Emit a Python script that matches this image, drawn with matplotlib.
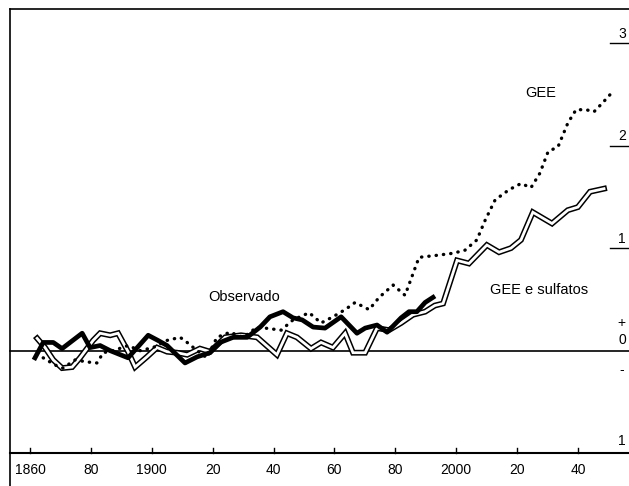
import matplotlib
matplotlib.use("Agg")
import matplotlib.pyplot as plt

plt.rcParams['font.family'] = ['Liberation Sans', 'DejaVu Sans']

# anomalia de temperatura (graus C)
obs_anos = [1861.6, 1864.3, 1867.6, 1870.5, 1877.1, 1879.7, 1883.0, 1886.3, 1892.2, 1898.8,
            1902.0, 1905.0, 1910.9, 1914.9, 1919.1, 1922.4, 1926.7, 1931.3, 1935.6, 1938.8,
            1943.1, 1946.4, 1949.4, 1953.0, 1956.9, 1962.2, 1967.4, 1970.1, 1974.0, 1977.3,
            1981.9, 1984.5, 1987.1, 1989.8, 1992.4]
obs_temp = [-0.07, 0.08, 0.08, 0.02, 0.17, 0.03, 0.05, 0.0, -0.07, 0.15,
            0.10, 0.05, -0.12, -0.06, -0.02, 0.08, 0.13, 0.13, 0.23, 0.33,
            0.38, 0.32, 0.30, 0.23, 0.22, 0.33, 0.17, 0.22, 0.25, 0.18,
            0.32, 0.38, 0.38, 0.47, 0.52]

gee_anos = [1864.3, 1868.2, 1870.8, 1874.8, 1878.7, 1882.0, 1884.0, 1887.3, 1892.2, 1896.1,
            1900.4, 1905.0, 1909.3, 1911.6, 1914.9, 1918.1, 1921.4, 1925.7, 1930.0, 1934.6,
            1942.5, 1946.4, 1951.7, 1955.6, 1959.5, 1963.5, 1966.8, 1971.4, 1974.7, 1979.3,
            1983.2, 1987.8, 1993.7, 1999.0, 2002.9, 2006.8, 2009.5, 2012.8, 2017.4, 2021.3,
            2024.6, 2027.5, 2030.2, 2033.5, 2036.7, 2039.4, 2042.7, 2045.3, 2047.9, 2051.9]
gee_temp = [-0.07, -0.14, -0.17, -0.09, -0.11, -0.12, -0.02, 0.0, 0.05, 0.0,
            0.03, 0.10, 0.13, 0.08, 0.0, -0.07, 0.13, 0.18, 0.13, 0.23,
            0.20, 0.30, 0.37, 0.27, 0.33, 0.40, 0.47, 0.40, 0.52, 0.64,
            0.54, 0.91, 0.93, 0.95, 0.98, 1.08, 1.27, 1.47, 1.57, 1.63,
            1.59, 1.73, 1.94, 1.99, 2.22, 2.35, 2.35, 2.33, 2.41, 2.54]

sulf_anos = [1862.3, 1864.9, 1867.6, 1870.5, 1873.8, 1876.4, 1880.7, 1883.0, 1886.3, 1888.9,
             1892.2, 1894.5, 1898.4, 1901.7, 1905.0, 1908.3, 1911.6, 1915.8, 1919.1, 1924.1,
             1929.3, 1934.6, 1941.1, 1944.4, 1947.7, 1952.3, 1955.6, 1959.5, 1963.5, 1966.1,
             1970.1, 1974.0, 1977.9, 1981.9, 1985.8, 1989.8, 1993.0, 1995.7, 2000.3, 2004.2,
             2010.1, 2014.1, 2018.0, 2021.3, 2025.2, 2031.5, 2036.7, 2040.0, 2044.0, 2048.6]
sulf_temp = [0.12, 0.03, -0.09, -0.17, -0.16, -0.07, 0.10, 0.17, 0.15, 0.17,
             -0.01, -0.16, -0.06, 0.03, -0.01, -0.02, -0.04, 0.02, -0.01, 0.13,
             0.15, 0.13, -0.04, 0.17, 0.13, 0.02, 0.08, 0.03, 0.17, -0.02,
             -0.02, 0.22, 0.20, 0.27, 0.35, 0.38, 0.44, 0.46, 0.88, 0.85,
             1.03, 0.96, 1.00, 1.08, 1.35, 1.24, 1.37, 1.40, 1.55, 1.58]

x_ticks = [1860, 1880, 1900, 1920, 1940, 1960, 1980, 2000, 2020, 2040]
x_labels = ['1860', '80', '1900', '20', '40', '60', '80', '2000', '20', '40']
y_marks = [3, 2, 1]

fig = plt.figure(figsize=(6.29, 4.86), dpi=100)
ax = fig.add_axes([0, 0, 1, 1])
ax.set_xlim(1850.1, 2056.8)
ax.set_ylim(-1.32, 3.42)
ax.axis('off')

x_left = 1853.4
y_top = 3.33
y_base = -1.0

# moldura
ax.plot([x_left, x_left], [-1.32, y_top], color='black', lw=1.2)
ax.plot([x_left, 2056.8], [y_top, y_top], color='black', lw=1.2)
ax.plot([x_left, 2056.8], [y_base, y_base], color='black', lw=1.5)
ax.plot([x_left, 2056.8], [0, 0], color='black', lw=1.2)

# marcas do eixo x
for t, lab in zip(x_ticks, x_labels):
    ax.plot([t, t], [y_base, y_base + 0.05], color='black', lw=1)
    ax.text(t, y_base - 0.16, lab, ha='center', va='center', fontsize=10)

# escala da direita
for v in y_marks:
    ax.plot([2050.5, 2056.5], [v, v], color='black', lw=1)
    ax.text(2054.5, v + 0.09, str(v), ha='center', va='center', fontsize=10)
ax.text(2054.3, 0.27, '+', ha='center', va='center', fontsize=10)
ax.text(2054.5, 0.1, '0', ha='center', va='center', fontsize=10)
ax.text(2054.3, -0.19, '-', ha='center', va='center', fontsize=10)
ax.text(2054.5, -0.88, '1', ha='center', va='center', fontsize=10)

# GEE e sulfatos: linha dupla (contorno preto, miolo branco)
ax.plot(sulf_anos, sulf_temp, color='black', lw=4.2, solid_joinstyle='miter', zorder=3)
ax.plot(sulf_anos, sulf_temp, color='white', lw=2.0, solid_joinstyle='miter', zorder=4)

# GEE: pontilhado
ax.plot(gee_anos, gee_temp, color='black', lw=2.4, linestyle=(0, (0.1, 2.1)),
        dash_capstyle='round', zorder=5)

# Observado: linha grossa
ax.plot(obs_anos, obs_temp, color='black', lw=3.4, zorder=6)

ax.text(2027.9, 2.51, 'GEE', ha='center', va='center', fontsize=10.5)
ax.text(1930.3, 0.52, 'Observado', ha='center', va='center', fontsize=10.5)
ax.text(2027.2, 0.59, 'GEE e sulfatos', ha='center', va='center', fontsize=10.5)

fig.savefig('out.png', dpi=100)
